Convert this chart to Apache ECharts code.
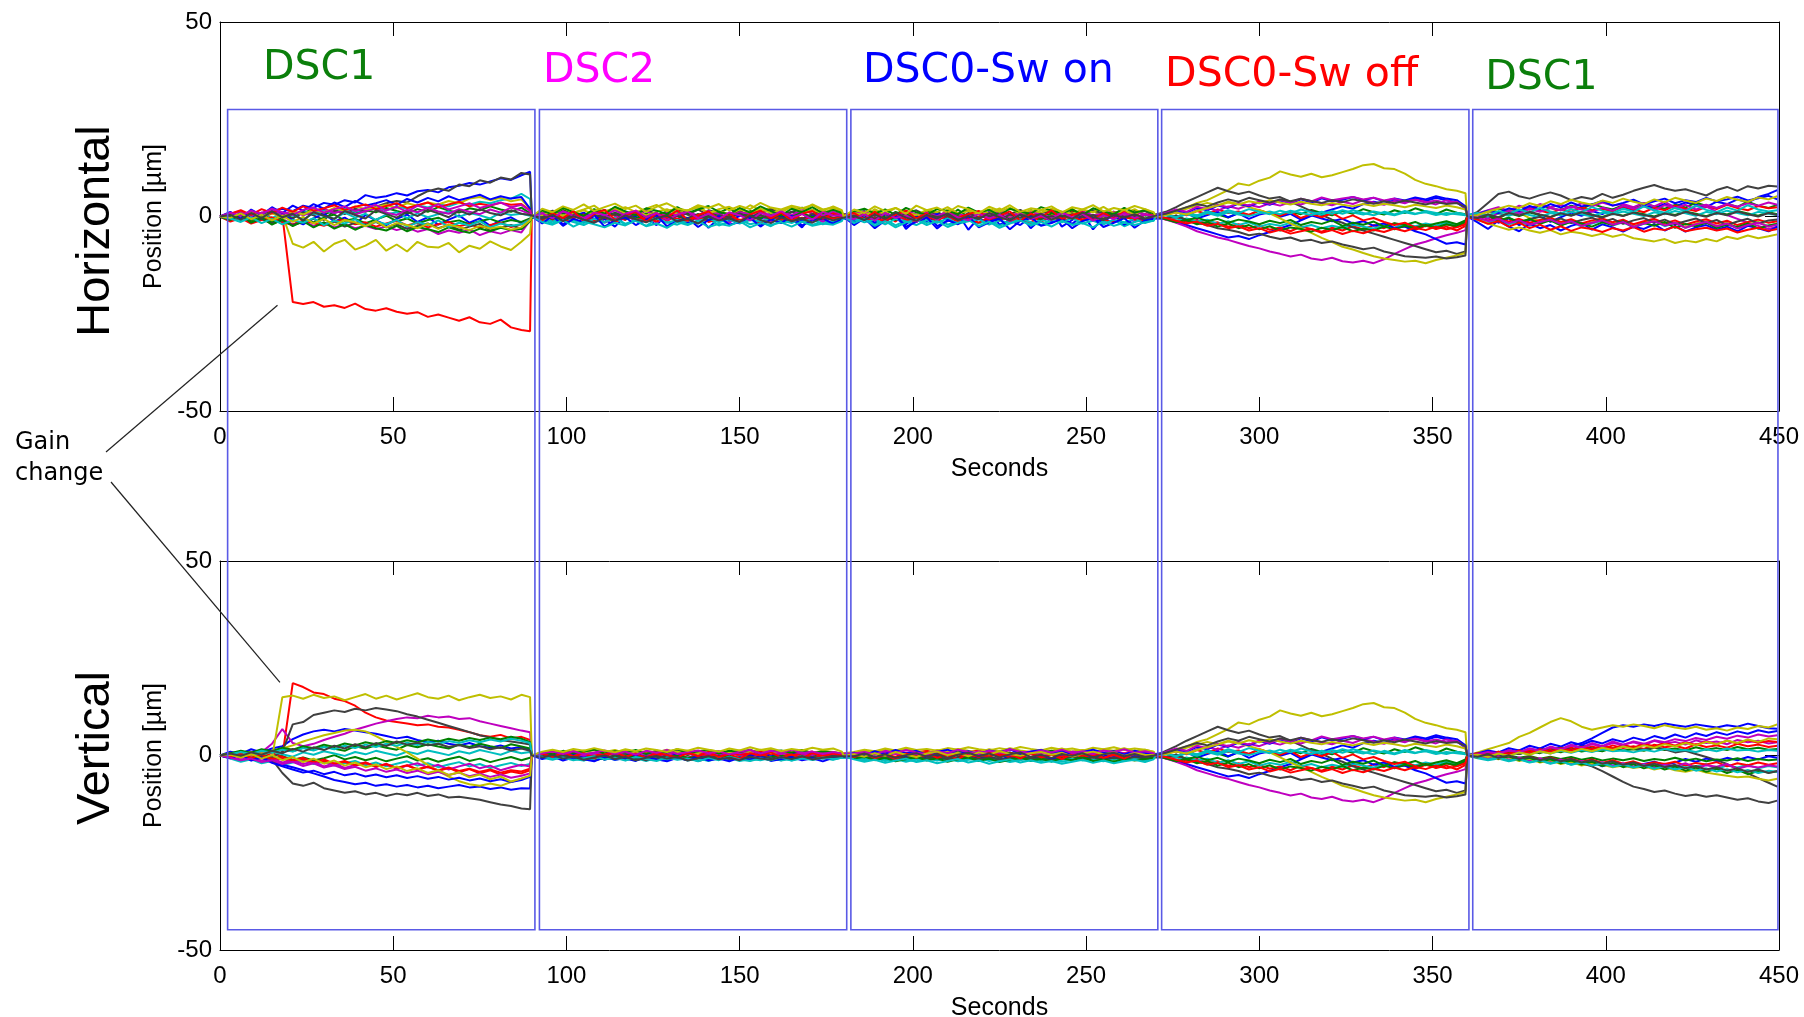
<!DOCTYPE html>
<html>
<head>
<meta charset="utf-8">
<script src="https://cdn.jsdelivr.net/npm/echarts/dist/echarts.min.js"></script>
<style>
  html, body { margin: 0; padding: 0; background: #fff; }
  #chart { width: 1804px; height: 1017px; }
</style>
</head>
<body>
<div id="chart"></div>
<script>
// Orbit stability record: BPM position traces for five 90 s acquisitions,
// horizontal plane (top) and vertical plane (bottom).

// Start time of each acquisition [s] and the sample offsets inside one acquisition [s]
const sectionStart = [0, 90, 180, 270, 360];
const sampleOffset = [0, 3, 6, 9, 12, 15, 18, 21, 24, 27, 30, 33, 36, 39, 42, 45, 48, 51, 54, 57, 60, 63, 66, 69, 72, 75, 78, 81, 84, 87, 89.5];

// Acquisition titles
const sectionNames = ['DSC1', 'DSC2', 'DSC0-Sw on', 'DSC0-Sw off', 'DSC1'];
const sectionColors = ['#0b7f0b', '#ff00ff', '#0000ff', '#ff0000', '#0b7f0b'];
// title anchor [s, µm] in the horizontal panel (left edge, vertical centre)
const sectionLabelAnchor = [[12.4, 38.2], [93.2, 37.3], [185.6, 37.2], [272.8, 36.4], [365.2, 35.4]];
// time span of each acquisition frame [s]
const sectionBox = [[2.2, 90.9], [92.2, 180.9], [182.1, 270.7], [271.8, 360.5], [361.6, 449.7]];
const boxTopH = 27.5;     // frame top, in µm of the horizontal panel
const boxBottomV = -44.8; // frame bottom, in µm of the vertical panel

// Points where the gain change shows up [s, µm]
const gainChangeH = [16.6, -22.8];
const gainChangeV = [17.3, 18.8];

// Trace colours (cycled per BPM)
const traceColors = ['#0000ff', '#008000', '#ff0000', '#00bfbf', '#bf00bf', '#bfbf00', '#404040'];
const BPM_COUNT = 21;

// ---- Horizontal plane, one row per BPM, values in µm ----
const hDsc1 = [
  [0,.8,-.5,1.2,.6,1.5,2,1.4,2.8,2.2,3.5,3,4.2,3.6,5.5,4.8,5.2,6,5.4,6.5,6.8,6.2,7.5,7.9,8.6,8.2,9,9.8,9.4,10.6,11.5],
  [0,.9,-.6,1.3,.2,1.6,.5,-.4,1,1.8,.6,1.4,2,.8,1.6,1.1,2.2,1.4,.7,1.9,1.2,2.4,1.5,1,2.1,1.6,2.6,1.8,1.2,2.3,.8],
  [0,.5,-.8,1,-.5,.8,.3,-22,-22.5,-22,-23.2,-22.8,-23.5,-22.4,-23.8,-24.2,-23.6,-24.5,-25,-24.6,-25.8,-25.2,-26,-26.8,-25.9,-27.2,-27.6,-26.5,-28.5,-29.2,-29.5],
  [0,-1.2,.3,-.8,.6,-.4,1,.2,1.4,.5,1.6,.8,2,1.2,1.8,2.4,1.5,2.6,2,2.9,2.3,3.2,2.6,3.5,3,3.8,3.4,4.2,4.6,5.8,4.5],
  [0,.5,-1,.2,-.8,-1.5,-.6,-2,-1.2,-2.4,-1.6,-2.8,-2,-3,-2.4,-3.2,-2.6,-3.5,-2.8,-3.9,-3.2,-4.5,-3.6,-4.2,-3.4,-4.8,-3.8,-4.4,-3.5,-4.1,-1],
  [0,-.8,1,-1.4,.6,-1,.4,-7,-8,-6.5,-9,-7,-6,-8.5,-7.5,-6,-8.8,-7.2,-9,-6.5,-7.8,-8,-6.8,-9.2,-7.5,-8.3,-6.4,-7.7,-8.6,-6.5,-4.5],
  [0,-1,.5,-.8,1,-1.2,.4,-.5,1.1,.3,-.9,1.5,.6,2,1.2,2.5,3.4,4,3.6,5.2,6.5,7.2,6.6,8.2,7.8,9.3,8.7,10,9.5,11.2,10.8],
  [0,-1,1.1,-.4,.7,-1.6,.2,-.9,-2,-.5,.8,-1.3,-.3,-1.9,.4,-1,-2.2,-.6,.5,-1.4,-.2,-2.1,-.8,.3,-1.6,-.5,-2.4,-1,-.2,-1.7,-.6],
  [0,-.6,.8,-1,.3,-1.4,-.2,.6,-.9,-1.5,-.3,.5,-1.1,-.6,-1.7,-.8,.2,-1.2,-.5,-1.8,-.9,-.3,-1.5,-1,-2,-1.2,-.6,-1.6,-.9,-1.4,-.5],
  [0,-1.3,-.4,-1.8,-.9,-.2,-1.5,-2.1,-1,-1.7,-2.4,-1.3,-.8,-2,-1.5,-2.6,-1.8,-1.1,-2.3,-1.6,-2.8,-2,-1.4,-2.5,-1.9,-3,-2.2,-1.6,-2.7,-2,-.8],
  [0,.4,-1,.8,-.5,1.2,-.2,.6,-.8,.9,.1,-.6,1,-.3,.7,-.9,.5,1.1,-.4,.8,-.2,.6,1.3,-.1,.9,.3,-.5,1,.4,.7,.2],
  [0,.7,1.3,.2,1,1.8,.6,1.4,.3,1.2,2,.9,1.6,.5,1.4,2.1,1,.4,1.7,1.1,2.2,1.3,.7,1.9,1.2,.6,1.8,1,2.3,1.5,.6],
  [0,.6,-.4,1.1,.2,.9,-.3,1.4,.5,1.8,1,2.2,1.5,2.6,1.9,2.4,3,2.2,3.4,2.8,3.6,3.1,4,3.4,4.6,5,4.2,4.8,3.9,4.4,2],
  [0,-.8,.4,-1.5,-.6,-1.8,-1,-2.2,-1.4,-.6,-2,-1.2,-2.6,-1.6,-2.2,-1.4,-2.8,-2,-3.2,-2.4,-1.8,-3,-2.2,-3.4,-2.6,-1.9,-3.6,-2.8,-2.2,-3.2,-1],
  [0,1.2,-.6,1.8,.3,2.4,.9,2.8,1.5,3.2,2,3.6,2.4,4,2.8,3.4,4.2,3,4.5,3.6,4.8,3.9,5.2,4.2,4.9,5.6,4.4,5.2,4.6,5,2],
  [0,-.9,.6,-1.6,-.3,-2.1,-.8,-2.5,-1.2,-2.8,-1.5,-3.1,-2,-3.4,-2.2,-3,-3.6,-2.4,-3.8,-2.7,-3.3,-4,-2.8,-3.6,-4.2,-3.1,-3.8,-2.9,-3.5,-3.2,-1.2],
  [0,.7,1.6,.4,1.9,.9,2.3,1.2,2.6,1.5,2.1,2.9,1.7,2.5,3.1,1.9,2.7,3.4,2.2,2.9,3.6,2.4,3.1,3.8,2.6,3.3,2.8,3.5,3,3.2,1.5],
  [0,-.5,-1.4,-.2,-1.7,-.6,-2,-.9,-1.6,-.4,-2.2,-1.1,-1.8,-.7,-2.4,-1.3,-2,-.9,-2.6,-1.5,-2.2,-1,-2.7,-1.6,-2.3,-1.2,-2.8,-1.8,-2.4,-2,-.8],
  [0,1,.2,1.5,.6,2,1.1,.4,1.7,2.3,1,1.9,2.6,1.4,2.2,3,1.6,2.5,1.2,2.8,2,3.2,1.8,2.6,3.4,2.2,2.9,3.6,2.4,3,1.4],
  [0,-.3,.8,-.7,.5,-1,.2,-1.4,-.1,-1.8,-.6,-2.2,-.9,-1.5,-2.5,-1.2,-2.8,-1.7,-2.2,-3,-1.9,-3.2,-2.1,-2.7,-3.5,-2.4,-3.1,-2.6,-3.4,-2.8,-1],
  [0,.4,-.8,.9,-.4,1.3,-.2,.7,-1,1.1,.2,-.6,1.4,.4,-.5,1.6,.6,-.3,1.2,.1,1.7,.8,-.2,1.5,.5,1.9,.9,.3,1.6,.7,.4]
];
const hDsc2 = [
  [0,-1.2,.4,-2,-.3,.8,-1.5,-.6,-2.6,.2,-1,-.4,-2.2,.6,-.8,-1.7,.1,-2.9,-.5,.7,-1.3,-.2,-2.4,.3,-1.1,-.6,-2.8,.5,-.9,-1.6,-.3],
  [0,1.2,-.3,1.8,.4,-.6,1.5,.8,2.1,-.2,1,1.7,.3,1.3,2,.5,-.4,1.6,.9,2.2,.2,1.4,.7,1.9,-.1,1.1,2.3,.6,1.5,.8,.4],
  [0,.8,-1,1.3,-.5,.6,-1.4,1,.2,-.9,1.5,-.3,.7,-1.2,.4,1.2,-.7,.9,-1.1,.3,1.4,-.6,.5,-1.3,1,-.2,.8,-1,1.3,-.4,.2],
  [0,-.8,-1.8,-.5,-1.4,-2.2,-.9,-1.6,-.4,-2,-1.1,-2.4,-.7,-1.5,-2.1,-1,-1.8,-.6,-2.3,-1.3,-.8,-2,-1.4,-2.5,-1,-1.7,-.5,-2.2,-1.2,-1.9,-.8],
  [0,-.4,.9,-1.1,.3,-.7,1.1,-1.5,-.2,.8,-1,.4,-1.6,.1,-.6,1,-1.2,.5,-.4,-1.7,.6,-.9,.2,-1.3,.7,-.5,-1.1,.3,-1.4,.5,-.2],
  [0,1.4,.6,2.2,1,1.8,2.8,.9,1.6,2.4,1.1,2,3,1.3,2.1,1.5,2.7,.8,1.9,2.5,1.2,2.9,1.6,2.2,1,2.6,1.4,3.1,1.8,2.3,1],
  [0,.6,1.5,.2,1.1,-.3,.9,1.7,.4,1.3,.1,1.6,.7,-.2,1.2,.5,1.8,.3,1,.6,1.5,-.1,.9,1.9,.4,1.2,.8,1.7,.2,1.1,.5],
  [0,-.3,.5,-.9,.2,1,-.6,.4,-1.2,.7,-.1,-.8,.6,-.5,1.1,-.9,.3,-.4,.8,-1,.1,.6,-.7,.9,-.3,.4,-1.1,.5,-.2,.7,.1],
  [0,.3,-.6,.9,.1,-.8,.5,-.3,1,.2,-.5,.8,-.7,.4,.1,-.9,.6,-.2,.7,-.6,1,.2,-.4,.6,-.8,.3,.9,-.2,.5,-.5,.2],
  [0,-.7,.2,-1.2,-.4,.5,-1,-.2,-1.5,.1,-.8,-.3,-1.3,.3,-.6,-1.1,-.1,-1.4,-.5,.2,-.9,-.4,-1.6,0,-.7,-1.2,-.3,-1,.1,-.6,-.2],
  [0,-.5,-1.3,-.2,-1,-1.7,-.6,-1.4,-.3,-1.9,-.8,-1.2,-.4,-1.6,-.9,-2,-1.1,-.5,-1.5,-.7,-1.8,-.9,-1.3,-.4,-1.7,-1,-1.4,-.6,-2,-1.1,-.5],
  [0,.9,.1,1.3,.5,-.3,1,.4,1.6,.2,.8,1.4,-.1,.9,.5,1.2,.3,1.5,.6,-.2,1.1,.7,1.4,.2,1,.4,1.6,.8,.3,1.2,.4],
  [0,.4,1.1,.2,.9,1.6,.5,1.3,2.2,.8,1.5,.3,1.2,1.9,.7,1.6,2.3,1,1.4,.6,1.8,1.1,2,.9,1.5,2.4,1.2,1.7,.8,2.1,1.3],
  [0,-.2,.7,-.5,.4,-.9,.3,-.3,.8,-.7,.5,-.1,.9,-.6,.2,-.4,.6,-1,.3,-.2,.8,-.5,.4,-.8,.6,0,-.6,.7,-.3,.5,0],
  [0,-1.8,.2,-2.4,-.6,-1.4,.4,-2.6,-1,-.2,-2.2,-.8,.3,-2.5,-1.2,-.4,-2.7,-.9,.1,-2.1,-1.4,-.3,-2.6,-.7,-1.7,.2,-2.3,-1,-.5,-1.9,-.6],
  [0,1.6,.5,2.3,1.1,.2,1.9,.7,2.5,1.3,.4,2.1,1.5,.6,2.4,.9,1.8,2.7,1.2,.5,2.2,1,2.6,1.4,.3,2,1.1,2.4,.8,1.7,.9],
  [0,-1,.9,-.4,1.4,-1.2,.6,1.7,-.8,.3,1.2,-1.4,.8,-.3,1.6,-1,.4,1.3,-.7,.9,-1.3,.5,1.5,-.5,1,-1.1,.7,1.4,-.6,.8,.1],
  [0,-1.4,-2.1,-.9,-2.6,-1.3,-2,-2.8,-1.6,-2.3,-1,-2.5,-1.8,-2.9,-1.4,-2.2,-1.1,-2.7,-1.9,-2.4,-1.2,-2.8,-1.7,-2.2,-1.5,-2.6,-1.3,-2.4,-1.8,-2.1,-1.2],
  [0,.8,-.5,1.3,.2,-.8,1,.4,-1.1,.7,1.5,-.2,.9,-.9,.5,1.3,-.4,.7,-.7,1.1,.3,-1,.9,.1,1.4,-.3,.6,-.8,1.2,.2,.3],
  [0,2,1.1,2.6,1.7,3.1,1.4,2.4,3.3,1.9,2.8,1.2,2.5,3.4,2,1.5,2.9,2.2,3.2,1.6,2.7,1.9,3.5,2.3,1.8,2.8,2.1,3,1.5,2.6,1.6],
  [0,-.6,.4,-1.2,.1,-.8,-1.6,-.2,-1.1,.3,-.7,-1.5,-.4,.2,-1.3,-.6,-1.8,-.1,-1,-.5,-1.4,.2,-.9,-1.7,-.3,-1.2,-.6,-1.6,-.2,-1,-.4]
];
const hSwOn = [
  [0,-1.5,.6,-2.8,-.4,1,-3.2,-.8,.9,-2.5,-1.2,.7,-3.4,-.3,1.2,-2.1,-1,.5,-3,-.6,1.4,-2.6,-.9,.8,-3.3,-.2,1.1,-2.2,-1.4,.6,-.5],
  [0,1,-.4,1.6,-.8,1.2,.2,-1,1.4,.5,-.6,1.8,-.2,1,-.9,1.3,.4,-.7,1.7,0,1.1,-.5,1.5,.3,-.8,1.2,.6,-.3,1.6,.2,.5],
  [0,-.6,.9,-1,.5,-1.3,.8,-.4,1.2,-.9,.3,-1.5,.6,-.2,1,-1.1,.4,-.6,.9,-1.4,.2,-.3,1.1,-.8,.5,-1.2,.7,-.5,1,-.9,.1],
  [0,-1.1,-.3,-1.9,-.7,-2.3,-1,-.2,-1.7,-.6,-2.1,-1.3,-.4,-1.8,-.9,-2.4,-1.2,-.5,-2,-.8,-1.6,-.3,-2.2,-1.1,-.6,-1.9,-.9,-2.5,-1.4,-.7,-1],
  [0,.5,-.8,1,-.3,.7,-1.2,.2,-.5,1.1,-.9,.4,-.2,.8,-1.1,.6,-.4,1,-.7,.3,-1,.9,-.3,.5,-1.2,.8,-.1,.4,-.9,.6,0],
  [0,1.2,-.2,1.9,.5,-.6,1.6,.2,1.1,-.4,1.8,.7,-.3,1.4,.9,2.1,.1,1.3,-.5,1.7,.6,1,2,.3,1.5,-.2,1.2,.8,1.9,.4,.6],
  [0,.7,1.4,.1,1,-.4,.8,1.6,.3,1.2,-.2,.9,1.5,.5,-.3,1.1,.6,1.7,.2,.9,1.3,-.1,1,.4,1.6,.7,1.2,-.2,.8,1.4,.3],
  [0,-.8,.3,-1.6,.6,-.5,-2,.1,-1.2,.8,-.9,-1.8,.2,-.6,-1.4,.5,-1,-2.2,-.1,.7,-1.5,-.4,-1.9,.3,-.7,-1.3,.4,-2.1,-.5,-1,-.3],
  [0,.4,-.5,.9,-.2,-.9,.6,-.4,.3,-1,.7,.1,-.6,.9,-.3,.4,-.8,.6,-.1,-.7,.8,.2,-.5,.5,-.9,.3,.7,-.4,.2,-.6,.1],
  [0,.2,-.9,-.3,-1.3,.4,-.7,-1.4,-.1,-1,.3,-1.2,-.5,-1.6,-.2,.1,-1.1,-.6,-1.5,.2,-.8,-1.3,-.3,-1,.4,-.9,-1.4,-.2,-.7,-1.2,-.4],
  [0,-.4,-1.5,-.8,-2,-.6,-1.3,-2.2,-.9,-1.6,-.5,-1.9,-1.2,-.7,-2.1,-1,-1.7,-.6,-1.4,-2.3,-.9,-1.5,-.4,-1.8,-1.1,-2,-.8,-1.5,-.6,-1.7,-.9],
  [0,.6,1.2,.3,.9,-.2,1.4,.5,1,.1,1.3,.7,-.1,1.1,.4,1.5,.2,.9,1.3,.6,-.2,1,.5,1.4,.3,.8,1.2,.1,1,.6,.3],
  [0,.9,.3,1.5,.7,2.2,1,.4,1.7,1.1,2.4,.8,1.4,.5,1.9,1.2,2.3,.6,1.6,1,2,1.3,.7,1.8,1.1,2.5,.9,1.5,.6,1.9,.8],
  [0,-.3,.5,-.6,.8,-.2,.4,-.9,.6,-.1,.3,-.7,.9,-.4,.2,-.8,.5,-.3,.7,-.5,.1,-.8,.6,-.2,.4,-.6,.8,-.1,.3,-.7,.2],
  [0,-2.2,-.4,-3,-1,.3,-2.6,-1.4,-.2,-3.1,-.9,-2,.1,-2.8,-1.5,-.5,-3.3,-1.1,-.1,-2.4,-1.7,-.6,-3,-1.2,-.3,-2.7,-1.6,-.4,-2.9,-1,-.6],
  [0,1.3,2,.8,1.8,.4,2.2,1.1,.5,1.9,1.4,.6,2.3,1,1.7,.3,2,1.2,.7,2.4,1.5,.9,1.8,.4,2.1,1.3,.6,2.2,1,1.6,.8],
  [0,.9,-.7,1.2,-1,.4,1.5,-.5,.8,-1.2,1.1,-.3,.6,1.4,-.8,.2,1.3,-1.1,.7,-.2,1.6,-.6,.4,1.1,-.9,.9,-.4,1.2,-.7,.5,.2],
  [0,-1.7,-.6,-2.4,-1.2,-2.8,-1.5,-.8,-2.2,-1.1,-2.7,-1.6,-.9,-2.5,-1.3,-2.9,-1.8,-1,-2.3,-1.4,-2.6,-1.1,-2.1,-1.7,-2.8,-1.2,-2.4,-1.6,-2.2,-1.5,-1.1],
  [0,-.7,.6,-1.1,.9,-.4,.3,-1.3,.5,-.8,1,-.2,-1,.7,-.5,.4,-1.2,.8,-.6,.2,-.9,1.1,-.3,.6,-1.1,.3,-.7,.9,-.4,.5,0],
  [0,1.8,.9,2.6,1.4,2.2,.7,2.8,1.6,2.3,1,2.7,1.9,.8,2.5,1.5,2.9,1.2,2.1,1.7,2.6,1,2.4,1.8,2.9,1.3,2.2,1.6,2.7,1.9,1.1],
  [0,.2,-.9,.5,-.6,1,-.3,-1.1,.4,-.5,.8,-.9,.1,-.7,.9,-.2,-1,.5,-.4,.7,-.8,.3,-.6,1,-.1,-.9,.4,-.3,.6,-.5,.1]
];
// Sw off acquisition (recorded identically in both planes)
const swOff = [
  [0,-.6,-1.4,-2.2,-3,-3.8,-4.6,-5.4,-5,-5.8,-4.8,-4,-3,-2.2,-1,.2,1,1.8,2.6,2,3.2,3.8,3.2,4.2,3.6,4.6,4,4.8,4.2,3.6,2],
  [0,.4,-.5,.9,.2,1.3,.5,-.3,1,.4,1.5,.8,.1,1.2,.6,1.7,.9,.3,1.4,.7,1.9,1.1,.5,1.6,.9,2.1,1.3,.6,1.8,1,.6],
  [0,-.8,-.3,-1.4,-.9,-2,-1.5,-2.6,-2,-3,-2.4,-3.4,-2.8,-3.8,-2.6,-3.2,-3.9,-2.9,-3.6,-2.5,-3.3,-2.2,-3,-1.8,-2.6,-3.4,-2.4,-3.1,-2,-2.7,-1.5],
  [0,-.3,-1,-.5,-1.3,-.8,-1.9,-1.2,-2.2,-1.5,-2.6,-1.9,-2.4,-1.6,-2.8,-2.2,-3,-2.4,-2.9,-2.1,-2.6,-3.1,-2.3,-2.8,-2,-2.5,-1.8,-2.3,-1.6,-2.1,-1.2],
  [0,-.8,-1.6,-2.6,-3.8,-4.6,-5.4,-6,-6.8,-7.6,-8.2,-9,-9.6,-10.3,-9.8,-10.8,-11.2,-10.6,-11.5,-11.8,-11.4,-12,-11,-9.6,-8.4,-7.2,-6.5,-5.6,-4.8,-4.2,-3.5],
  [0,.8,1.6,2.3,3.5,4.2,5.5,6.8,8.5,8,9.2,10,11.6,10.8,10.2,11,10.1,10.6,11.4,12.2,13.2,13.5,12.4,12.2,11,9.4,8.4,7.8,7,6.6,6],
  [0,1.2,2.4,3.8,5,6.2,7.4,6.5,5.8,6.4,5.4,4.6,5,3.8,2.6,1.4,.4,-.8,-1.6,-2.8,-3.6,-4.4,-5.2,-6,-6.8,-7.6,-8.4,-9.2,-8.8,-9.6,-9],
  [0,.6,-.3,.9,-.5,.4,1.2,-.2,.8,-.6,.5,1.1,-.1,.7,-.8,.3,-.5,-1.2,-.6,-1.8,-1.2,-2.4,-1.8,-3,-2.6,-3.8,-4.6,-5.8,-7,-6.6,-7.2],
  [0,-.5,.2,-.9,-.3,-1.2,-.6,-1.6,-.8,-1.3,-2,-1.1,-1.7,-.9,-2.2,-1.4,-1.9,-1,-2.4,-1.6,-2.1,-1.3,-2.6,-1.7,-2.2,-1.4,-2.5,-1.8,-1.2,-2,-1],
  [0,.5,1.1,.3,1.4,.6,1.8,.9,1.3,.4,1.6,.8,.2,1.2,-.4,.6,-.2,.9,-.6,.3,-1,-.4,-1.4,-2.2,-1.6,-2.8,-2.2,-3.2,-2.6,-3.6,-2.4],
  [0,.3,-.4,.6,-.1,.9,.2,1.1,.5,.1,.8,1.3,.6,1.5,.9,.4,1.2,.7,1.6,1,.5,1.3,.8,.3,1.1,.6,1.4,.9,.4,1,.5],
  [0,.6,1.2,.5,1.6,2.2,1.5,2.6,2,3,2.4,3.4,2.8,3.7,3.1,4,3.4,2.9,3.8,3.2,4.2,3.6,3,4,3.4,4.4,3.8,3.1,4.2,3.5,2.4],
  [0,.5,1.2,2,2.8,3.5,2.9,3.8,3.2,2.4,1.6,.8,-.5,-1.8,-3,-4.2,-5.5,-6.6,-7.8,-8.5,-9.4,-10.2,-10.8,-11.2,-11.6,-11.4,-12,-11.2,-10.6,-10,-9.4],
  [0,-.5,.3,-1,-1.6,-2.2,-3,-3.4,-4,-4.8,-4.4,-5.2,-5.8,-5.4,-6.3,-6,-6.8,-6.4,-7.2,-7.8,-8.4,-8,-9,-9.6,-10.2,-10.4,-10.6,-10.3,-10.8,-10.5,-10],
  [0,.8,1.6,1,2.2,1.6,2.8,2.2,3.3,2.6,3.7,3,4.1,3.4,4.4,3.6,4.7,3.9,4.3,5,4.2,4.8,3.9,4.6,4.1,4.9,4.4,5.2,4.6,4.2,2.6],
  [0,-.7,-1.5,-.9,-2,-1.4,-2.6,-1.8,-3,-2.2,-3.3,-2.5,-3.6,-2.8,-3.2,-3.9,-2.9,-3.5,-2.7,-3.8,-3.1,-3.6,-2.6,-3.3,-2.4,-3,-2.2,-2.8,-2,-2.5,-1.4],
  [0,-.4,-1.1,-1.8,-1.3,-2.4,-1.9,-3,-2.5,-3.6,-3,-4.1,-3.4,-4.4,-3.8,-3.2,-4.2,-3.5,-4.5,-3.7,-4.3,-3.4,-4,-3.1,-3.8,-2.9,-3.5,-2.6,-3.3,-2.8,-2],
  [0,.5,-.2,.9,.3,1.3,.6,1.6,.9,1.9,1.2,.6,1.5,.8,1.8,1.1,.5,1.4,.7,1.6,.9,.3,1.2,.5,1.4,.7,1.1,.4,.9,.6,.3],
  [0,.9,1.8,1.2,2.5,1.9,3,2.4,3.5,2.8,3.9,3.2,4.3,3.6,4.6,3.9,4.9,4.2,4.6,5,4.4,4.8,4.1,4.6,3.9,4.3,3.6,4.1,3.4,3.8,2.2],
  [0,.4,1,.5,1.4,2.2,2.8,3.6,3.1,3.9,3.4,4.2,3.6,3.1,3.8,3.3,2.9,3.5,3,2.6,3.2,2.7,3.3,2.9,2.4,3,2.6,2.2,2.8,2.4,1.8],
  [0,.7,1.5,2.4,3.2,2.6,3.6,4.4,3.8,4.8,4.2,3.6,4.4,3.9,4.6,4,3.5,4.2,3.7,4.4,3.9,3.3,3.9,3.4,4.1,3.6,3.1,3.7,3.2,3.5,2.4]
];
const hDsc1b = [
  [0,-.8,.4,-1.6,-.5,-2.2,-.9,.3,-1.4,-.2,1,.2,1.4,.6,1.8,2.4,1.6,2.8,2.2,3.2,2.6,3.6,3,2.4,3.8,3.2,4.4,3.6,5,5.8,6.8],
  [0,.7,1.2,2,1.4,2.6,1.8,3,2.2,1.6,2.8,2,3.2,2.4,1.8,2.9,2.2,3.4,2.6,2,3,2.3,3.6,2.7,2.1,3.2,2.5,3.8,2.8,2.2,3],
  [0,.6,1.4,.8,1.8,1.2,2.2,1.5,.9,1.9,1.2,2.4,1.6,2,1.3,2.6,1.8,1.1,2.3,1.6,2.8,2,1.4,2.5,1.9,3,2.2,1.6,2.7,2.1,2.4],
  [0,-.9,-1.6,-.8,-2,-1.2,-2.4,-1.5,-.9,-2.2,-1.4,-2.6,-1.8,-1.1,-2.3,-1.5,-2.8,-1.9,-1.2,-2.5,-1.7,-2.9,-2,-1.4,-2.6,-1.8,-3,-2.2,-1.5,-2.4,-1.8],
  [0,.8,1.6,2.4,1.4,2.8,2,3.2,2.4,3,2.2,3.4,2.6,3.6,2.8,3.2,2.4,3.5,2.6,3.8,2.2,3,1.8,2.6,1.2,.4,-.6,-1.6,-2.4,-3.2,-2.6],
  [0,.5,1.2,.6,1.6,1,-.4,-1.2,-.6,-1.8,-1,-2.2,-1.5,-.8,-2,-1.2,-2.5,-1.6,-.9,-2.2,-1.5,-2.8,-1.8,-1.2,-2.4,-1.6,-3,-2,-1.4,-2.6,-1.8],
  [0,1.2,3.5,5.8,6.4,5.2,4.6,5.5,6.2,5.4,4.2,5,4.5,5.8,4.8,5.6,6.6,7.4,8.1,7.2,6.6,7,6.2,5.4,6.8,7.6,6.6,7.8,7.2,7.9,7.7],
  [0,-1.5,-3.2,-1,-2.6,-3.8,-1.8,-3,-2.2,-3.6,-2.4,-1.6,-3.4,-2,-2.8,-3.9,-2.6,-3.2,-2,-3.6,-2.4,-3.9,-2.8,-2.2,-3.4,-2.6,-3.8,-2.4,-3,-3.8,-2.6],
  [0,-.3,.5,-.4,.8,.1,1,.4,-.2,.9,.3,1.2,.5,-.1,.8,.2,1.1,.6,0,.9,.4,1.3,.7,.1,1,.5,1.4,.8,.2,1.1,.6],
  [0,-.4,-1,-.2,-1.3,-.6,-1.6,-.9,-.3,-1.4,-.7,-1.8,-1,-.5,-1.5,-.8,-2,-1.2,-.6,-1.7,-1,-2.1,-1.3,-.7,-1.8,-1.1,-2.2,-1.4,-.8,-1.6,-1.2],
  [0,.4,-.3,.8,.2,1.1,.4,-.2,.9,.3,1.2,.6,0,1,.5,1.3,.7,.1,1.1,.6,1.4,.8,.2,1.2,.6,1.5,.9,.3,1.2,.7,.4],
  [0,.3,-.6,.9,1.5,.8,1.9,1.2,2.2,1.6,2.5,1.8,1.2,2.3,1.5,2.8,2,2.6,1.6,2.9,2.2,1.6,2.6,3,2.2,3.2,2.5,3.4,2.8,3.6,3],
  [0,-.8,-1.8,-2.6,-3.4,-2.8,-3.6,-4.2,-3.5,-4.6,-3.9,-4.3,-5,-4.4,-5.2,-4.6,-5.6,-6,-6.4,-5.8,-6.8,-6.2,-6.6,-5.8,-6.4,-5.2,-5.8,-4.9,-5.6,-5.1,-4.6],
  [0,-.6,.2,-1.1,-.4,-1.5,-.7,-.1,-1.2,-.5,-1.7,-.9,-.3,-1.4,-.6,-1.9,-1,-.4,-1.6,-.8,-2,-1.2,-.5,-1.7,-.9,-2.2,-1.3,-.6,-1.8,-1,-.8],
  [0,.6,1.5,.9,2.1,1.4,2.7,1.9,3.2,2.3,3.6,2.6,3.1,4,2.8,3.5,4.3,3.1,3.9,4.6,3.4,4.2,3.7,4.8,3.9,4.4,5.1,4.1,4.7,5.3,4.4],
  [0,-.5,.4,-1,-.3,-1.5,-.6,-1.9,-1,-2.3,-1.3,-1.8,-2.6,-1.5,-2.2,-1.2,-2.8,-1.7,-2.4,-1.4,-2.9,-1.9,-2.5,-1.6,-3,-2.1,-2.7,-1.8,-3.1,-2.3,-1.9],
  [0,-.8,-1.9,-1.2,-2.6,-1.6,-3,-2.1,-3.4,-2.5,-3.7,-2.8,-3.2,-4,-3,-3.6,-2.7,-3.9,-3.1,-3.5,-2.6,-3.8,-3.3,-2.9,-3.6,-3.1,-4.1,-3.4,-2.9,-3.7,-3.2],
  [0,.9,.2,1.4,.7,1.8,1,2.2,1.3,.8,1.9,1.1,2.4,1.5,.9,2,1.2,2.6,1.6,1,2.2,1.4,2.8,1.7,1.1,2.3,1.5,2.9,1.8,1.3,1.6],
  [0,-.3,-1.2,-.6,-1.7,-1,-2.1,-1.4,-.8,-1.9,-1.2,-2.4,-1.6,-1,-2.1,-1.4,-2.7,-1.8,-1.2,-2.3,-1.6,-2.9,-2,-1.4,-2.5,-1.8,-3.1,-2.2,-1.6,-2.6,-2.1],
  [0,.4,1.3,2,2.8,2.2,3.4,2.7,3.9,3.2,4.3,3.6,3,4.1,3.5,4.6,3.8,3.2,4.4,3.7,4.8,4.1,3.5,4.6,4,5,4.3,3.8,4.9,4.4,5.2],
  [0,-.4,.5,-.2,.9,.3,1.2,.5,-.1,.8,.2,1.1,.4,-.3,.7,.1,1,.4,-.2,.8,.2,1.2,.5,-.1,.9,.3,1.3,.6,0,.9,.4]
];

// ---- Vertical plane, one row per BPM, values in µm ----
const vDsc1 = [
  [0,1,.4,1.6,.8,1.8,2.4,4.2,5.4,6.2,6.6,6.2,6.8,6.4,6,5.6,5,4.4,4.8,4,3.4,3.8,3,2.6,3.2,2.4,2,2.6,1.8,2.2,1.4],
  [0,.5,1,.4,1.3,.8,1.6,1.1,2,1.4,2.3,1.7,1.2,2.4,1.8,2.6,2,1.5,2.7,2.1,2.9,2.3,1.8,2.8,2.2,3,2.4,1.9,2.9,2.3,1.8],
  [0,.4,-.6,.8,-.3,.6,-.2,18.6,17.6,16.2,15.8,14.6,14,12.8,11,9.8,9,8.6,8.2,7.8,8,7.4,7.2,6.6,6,5.2,4.8,5.3,4.4,4.8,4],
  [0,-.8,-1.6,-1,-2,-1.4,-2.4,-1.8,-1.2,-2.2,-1.6,-2.6,-2,-1.4,-2.5,-1.8,-2.8,-2.1,-1.5,-2.6,-2,-3,-2.3,-1.7,-2.8,-2.2,-3.2,-2.5,-1.9,-2.7,-2.2],
  [0,-.4,.6,-.2,.8,3,6.8,3.2,2.4,3,4,4.8,5.6,6.6,7.4,8.2,8.8,9.4,9.8,9.6,10.2,9.8,10,9.4,9.6,8.8,8.2,7.6,7,6.4,6],
  [0,-.5,.8,-.3,.6,-.8,15,15.4,14.6,15.6,14.8,15.2,14.2,15,15.8,14.6,15.4,14.4,15.2,16,15,14.6,15.4,14.2,15,15.6,14.8,15.2,14.4,15.6,15],
  [0,.6,-.4,.9,.2,-.5,1,8,8.6,10.4,11,11.6,11.2,12,11.6,12.2,11.8,11.4,10.6,10,9.2,8.4,7.6,6.8,6,5.2,4.6,4,3.6,3.2,2.8],
  [0,-.6,.3,-1.2,-.4,-1.6,-2.4,-3,-3.8,-4.6,-5.4,-6.3,-6.8,-7.4,-7,-7.8,-7.4,-8,-7.6,-8.2,-7.8,-8.4,-8,-7.6,-8.2,-8,-8.6,-8.2,-8.8,-8.4,-8.5],
  [0,-.3,.4,-.6,.2,-.9,-.2,-1.1,-.5,-1.3,-.7,.1,-1,-.4,-1.2,-.6,-1.5,-.8,-.2,-1.3,-.7,-1.6,-.9,-.3,-1.4,-.8,-1.7,-1,-.4,-1.2,-.6],
  [0,-.5,.3,-.9,-.4,-1.2,-.8,-1.6,-1,-1.9,-1.4,-2.2,-1.6,-2.6,-2,-2.8,-2.3,-3.2,-2.6,-3.5,-2.9,-3.8,-3.1,-4,-3.4,-4.2,-3.6,-4.4,-3.8,-4.1,-3.4],
  [0,.4,-.2,.7,.1,1,.3,-.3,.8,.2,1.1,.5,-.1,.9,.3,1.2,.6,0,1,.4,1.3,.7,.1,1.1,.5,1.4,.8,.2,1.2,.6,.9],
  [0,-.4,-1,-.5,-1.3,-.8,-1.8,-1.2,-2.2,-1.6,-2.8,-2,-3.2,-2.4,-1.8,-2.9,-2.2,-3.4,-2.6,-2,-3.1,-2.4,-3.6,-2.8,-2.1,-3.3,-2.6,-3.8,-3,-2.4,-2.8],
  [0,.6,-.3,.9,.4,1.2,1.8,2.6,3.6,4.4,5.2,5.8,6.4,6.6,6.2,5,3.6,2.2,.8,-.8,-2.4,-4,-5.4,-6.6,-7.4,-7.8,-7.2,-7.8,-6.8,-6,-5.4],
  [0,-.5,.4,-.8,-.2,-1,-4.5,-7.2,-7.8,-7,-8.4,-9,-9.6,-9.2,-10,-9.6,-10.4,-9.8,-10.2,-9.6,-10.4,-10,-10.8,-10.6,-11,-11.4,-12,-12.6,-13,-13.6,-13.8],
  [0,-.7,.3,-1.3,-.5,-1.9,-2.8,-3.6,-4.4,-3.9,-4.8,-4.2,-5.1,-4.6,-5.4,-4.9,-5.6,-5.1,-5.8,-5.3,-6,-5.5,-6.2,-5.7,-6.4,-5.9,-6.6,-6.1,-6.8,-6.3,-5.5],
  [0,.6,1.2,.7,1.6,1.1,2,1.5,2.4,1.9,2.8,2.2,3.1,2.6,3.4,2.9,3.7,3.2,3.9,3.4,4.1,3.6,4.3,3.8,4.5,4,4.6,4.2,4.8,4.3,3.4],
  [0,-.3,.5,-.6,.2,-.9,-.3,-1.3,-.6,-1.7,-1,-2.1,-1.4,-2.5,-1.8,-2.9,-2.2,-3.2,-2.5,-3.6,-2.9,-3.9,-3.2,-4.3,-3.5,-4.6,-3.8,-4.9,-4.1,-4.6,-3.8],
  [0,.3,.9,.4,1.2,.7,1.5,1,1.9,1.3,2.2,1.6,2.5,1.9,2.8,2.2,3,2.5,3.3,2.7,3.5,3,3.7,3.2,3.9,3.4,4.1,3.6,4.3,3.8,3.2],
  [0,-.6,-1.2,-.8,-1.7,-1.2,-2.2,-1.6,-2.7,-2,-3.1,-2.5,-3.5,-2.9,-3.9,-3.3,-4.2,-3.6,-4.5,-3.9,-4.8,-4.2,-5,-4.4,-5.3,-4.7,-5.5,-4.9,-5.7,-5.2,-4.6],
  [0,.2,-.5,.4,-.8,.1,-1.2,-.4,-1.7,-.8,-2.1,-1.3,-2.6,-1.8,-3,-2.3,-3.5,-2.8,-4,-3.3,-4.5,-3.8,-5,-4.3,-5.6,-4.9,-6.1,-5.4,-6.7,-5.9,-5.2],
  [0,.5,-.1,.8,.2,1.2,.6,1.7,1,2.1,1.4,2.5,1.8,2.9,2.1,3.2,2.4,3.6,2.8,3.3,2.6,3,2.2,2.7,1.9,2.4,1.6,2.1,1.3,1.8,1.2]
];
const vDsc2 = [
  [0,-.5,.3,-.9,.1,-.6,.5,-1.1,-.2,.4,-.8,.2,-.4,-1,.3,-.6,.1,-.9,.4,-.3,-1.2,.2,-.5,.3,-.8,-.1,.5,-.7,.2,-.4,-.1],
  [0,.4,-.2,.7,.2,-.4,.6,.1,.9,-.1,.5,.8,-.3,.4,.7,.1,.9,.3,-.2,.6,.2,.8,-.1,.5,1,.3,.6,-.2,.7,.4,.2],
  [0,-.3,.5,-.6,.2,-.8,.4,-.2,.7,-.5,.1,-.9,.3,-.4,.6,-.7,.2,-.3,.5,-.8,.1,-.5,.4,-.6,.3,-.2,.6,-.7,.2,-.4,0],
  [0,-.6,-1.1,-.4,-.9,-1.3,-.5,-1,-.3,-1.2,-.7,-1.4,-.6,-1,-.4,-1.3,-.8,-.3,-1.1,-.6,-1.4,-.9,-.5,-1.2,-.7,-1.3,-.4,-1,-.6,-1.1,-.5],
  [0,.3,-.4,.6,-.1,.5,-.6,.2,.8,-.3,.4,-.5,.7,-.2,.3,.9,-.1,.5,-.4,.6,.1,-.6,.4,.8,-.2,.5,-.4,.6,0,.3,-.2],
  [0,.7,.2,1,.5,1.3,.4,.9,1.4,.6,1.1,.3,1.2,.7,1.5,.8,.2,1,.6,1.3,.5,1.1,.8,1.6,.4,.9,1.3,.6,1,.5,.4],
  [0,-.2,-.8,-.3,-1,-.5,-1.3,-.6,-.1,-.9,-.4,-1.2,-.7,-.2,-1,-.5,-1.4,-.8,-.3,-1.1,-.6,-1.3,-.4,-.9,-1.2,-.5,-1,-.3,-.8,-.6,-.4],
  [0,.5,-.1,.8,.3,-.2,.6,1,.2,.7,-.1,.9,.4,1.1,.1,.6,-.2,.8,.3,1,.5,-.1,.7,.2,.9,.4,1.1,.3,.6,.1,.3],
  [0,-.4,.2,-.7,-.2,.3,-.5,-1,-.3,.2,-.6,-.1,-.9,-.4,.1,-.7,-.2,-1.1,-.5,0,-.8,-.3,-1,-.4,.1,-.6,-.2,-.9,-.5,-.2,-.3],
  [0,.2,.8,.3,1,.4,-.1,.7,.2,1.1,.5,.9,.1,.6,1,.3,.8,-.1,.5,.9,.2,.7,1.2,.4,.8,.1,.6,1,.3,.7,.2],
  [0,-.7,-.2,-1,-.5,-1.2,-.8,-.3,-1.1,-.6,-1.3,-.4,-.9,-1.2,-.5,-1,-.7,-1.4,-.6,-1.1,-.3,-.9,-1.2,-.6,-1.3,-.8,-.4,-1.1,-.7,-1,-.5],
  [0,.4,.9,.2,.7,-.1,.5,.9,.3,.6,1,.1,.8,.4,1.1,.5,-.1,.7,.3,.9,.6,1.2,.2,.7,.4,1,.5,.1,.8,.3,.2],
  [0,.6,1.1,.5,1.2,.8,1.4,.7,1,1.3,.5,1.1,.8,1.5,.9,1.2,.6,1.4,1,.7,1.3,.9,1.5,.6,1.1,.8,1.4,.7,1.2,.9,.5],
  [0,-.1,-.6,.2,-.4,-.9,-.2,-.7,.1,-.5,-1,-.3,-.8,0,-.6,-1.1,-.4,-.7,-.1,-.9,-.5,-1,-.2,-.7,-.4,-1.1,-.3,-.8,-.5,-.2,-.3],
  [0,-.9,-.2,-1.3,-.5,-1,-1.5,-.4,-1.1,-.7,-1.4,-.3,-1,-1.5,-.6,-1.2,-.2,-1.3,-.8,-1.5,-.5,-1.1,-.3,-1.4,-.9,-.4,-1.2,-.7,-1.5,-.6,-.4],
  [0,.8,.3,1.2,.6,1,1.5,.5,1.1,.7,1.4,.4,1.2,.8,1.6,.6,1.1,1.4,.5,1.2,.9,1.5,.4,1,1.3,.7,1.4,.6,1.1,.8,.5],
  [0,.5,-.4,.8,-.2,.6,-.7,.3,.9,-.3,.5,-.6,.8,.1,-.5,.7,-.2,.9,-.4,.4,-.8,.6,0,.8,-.5,.3,-.7,.6,-.2,.5,0],
  [0,-.3,-.9,-.5,-1.2,-.7,-.2,-1,-.6,-1.3,-.4,-.9,-1.4,-.5,-1.1,-.8,-1.5,-.6,-1.2,-.3,-1,-1.4,-.7,-1.2,-.4,-1.3,-.8,-1.1,-.5,-.9,-.6],
  [0,.6,1,.4,1.1,.3,.8,1.3,.5,1,.2,1.2,.7,1.4,.4,.9,1.3,.6,1.1,.3,1,1.4,.5,1.2,.8,1.5,.6,1,.4,.9,.5],
  [0,1,1.5,.9,1.7,1.2,1.9,1.3,.8,1.6,1.1,1.8,1.4,.9,1.7,1.2,2,1.5,1,1.8,1.3,2.1,1.4,1.9,1.1,1.7,1.3,2,1.5,1.8,1],
  [0,-.5,.1,-.8,-.3,-1.1,-.5,0,-.9,-.4,-1.2,-.6,-.1,-.8,-.4,-1.3,-.7,-.2,-1,-.5,-1.2,-.3,-.8,-1.1,-.4,-.9,-.2,-1,-.6,-.3,-.2]
];
const vSwOn = [
  [0,.4,-.3,.8,.1,-.5,.6,.2,.9,-.2,.5,1,.3,-.4,.7,.1,.8,-.3,.4,.9,.2,-.1,.6,1.1,.3,-.2,.7,.4,.9,.1,.3],
  [0,-.4,-.9,-.3,-1,-.6,-1.2,-.5,-.2,-.9,-.5,-1.3,-.7,-.3,-1.1,-.6,-1.4,-.8,-.4,-1.2,-.7,-1,-.3,-.9,-1.3,-.6,-1.1,-.4,-.9,-.6,-.3],
  [0,.3,.9,.4,1.1,.5,.2,.8,1.2,.6,1,.3,.9,1.3,.5,1.1,.7,.2,.9,1.2,.4,1,.6,1.3,.8,.3,1,.6,1.2,.7,.4],
  [0,-.8,-1.3,-.6,-1.4,-.9,-1.6,-1,-.5,-1.3,-.8,-1.5,-1.1,-.6,-1.4,-1,-1.7,-1.2,-.7,-1.5,-.9,-1.6,-1.1,-.6,-1.4,-.9,-1.7,-1.2,-.8,-1.3,-.7],
  [0,.2,-.4,.5,-.2,.6,-.5,.3,-.1,.7,-.3,.4,-.6,.2,.6,-.4,.3,-.2,.8,-.1,.4,-.5,.5,-.2,.3,.7,-.3,.4,-.1,.5,0],
  [0,.6,1.2,.7,1.5,.9,1.8,1.1,.6,1.4,1,1.7,1.2,.8,1.6,1.1,1.9,1.3,.9,1.5,1.2,1.8,1,1.4,.8,1.6,1.2,1.9,1.1,1.5,.9],
  [0,-.3,.2,-.6,-.1,-.8,-.3,.1,-.7,-.2,-.9,-.4,0,-.6,-.2,-1,-.5,-.1,-.8,-.3,-1,-.4,-.1,-.7,-.3,-.9,-.5,-.2,-.8,-.4,-.3],
  [0,-.5,.1,-.7,-.2,-1,-.4,.2,-.6,-1.1,-.3,-.8,-.1,-.9,-.5,-1.2,-.2,-.7,-1,-.4,-.9,-.1,-.6,-1.1,-.3,-.8,-.5,-1,-.2,-.6,-.4],
  [0,.5,.1,.8,.4,1,.3,.7,.1,.9,.5,1.1,.4,.8,.2,1,.6,.3,.9,.5,1.2,.4,.8,.2,1,.6,1.1,.3,.7,.4,.2],
  [0,-.2,.4,-.5,.2,-.3,.6,-.6,.1,.5,-.4,.3,-.7,.2,-.2,.5,-.5,.1,.4,-.6,.2,-.3,.6,-.4,.1,-.7,.3,-.1,.5,-.3,0],
  [0,-.6,-1,-.4,-1.3,-.7,-1.1,-1.5,-.8,-1.2,-.5,-1.4,-.9,-1.3,-.6,-1.5,-1,-.7,-1.4,-.9,-1.6,-1.1,-.6,-1.3,-1,-1.5,-.8,-1.2,-.7,-1.1,-.6],
  [0,.3,.7,.2,.9,.4,.8,.1,.6,1,.4,.8,.3,1.1,.5,.9,.2,.7,1,.5,.8,.3,1,.6,1.2,.4,.9,.5,.8,.3,.2],
  [0,.9,1.5,1.1,1.8,1.3,2,1.4,1.7,1.2,1.9,1.5,2.1,1.6,1.3,1.9,1.4,2.2,1.7,1.3,2,1.5,1.8,1.2,2,1.6,2.1,1.4,1.8,1.5,1],
  [0,-.4,-.1,-.7,-.3,-.9,-.5,-.2,-.8,-.4,-1,-.6,-.3,-.9,-.5,-1.1,-.7,-.4,-.9,-.6,-1.2,-.7,-.3,-1,-.5,-1.1,-.6,-.9,-.4,-.8,-.5],
  [0,.7,.1,1.1,.4,1.4,.6,1.2,.2,.9,1.5,.5,1.1,.3,1.3,.8,1.6,.4,1,1.4,.6,1.2,.2,.9,1.5,.7,1.1,.3,1.2,.6,.3],
  [0,-.8,-.3,-1.2,-.6,-1.5,-.9,-.4,-1.3,-.7,-1.6,-1,-.5,-1.4,-.8,-1.7,-1.1,-.6,-1.3,-.9,-1.5,-.7,-1.2,-.4,-1.4,-1,-1.6,-.8,-1.3,-.9,-.6],
  [0,-.4,.6,-.7,.3,-.9,.5,-.3,.8,-.6,.2,-1,.6,-.4,.9,-.2,.4,-.8,.7,-.5,.3,-.9,.5,-.1,.8,-.6,.2,-.8,.6,-.3,0],
  [0,-1,-1.6,-1.1,-1.9,-1.3,-.8,-1.7,-1.2,-2,-1.4,-.9,-1.8,-1.3,-2.1,-1.5,-1,-1.8,-1.2,-1.9,-1.4,-2.1,-1.6,-1.1,-1.9,-1.3,-2,-1.5,-1.1,-1.7,-1],
  [0,.5,.9,.3,1.2,.6,1.4,.8,.3,1.1,.6,1.5,.9,.4,1.2,.7,1.6,1,.5,1.3,.8,1.5,.6,1.1,.4,1.3,.9,1.6,.7,1.1,.6],
  [0,.3,-.3,.6,-.1,.9,.2,-.4,.5,1,.1,.7,-.2,.8,.3,1.1,.4,-.1,.6,.9,.2,.7,-.3,.5,1,.3,.8,-.1,.6,.2,.1],
  [0,-.2,.5,-.4,.3,-.6,.1,.6,-.3,.4,-.7,.2,.7,-.2,.5,-.5,.3,.8,-.4,.2,-.6,.4,-.1,.6,-.5,.3,.7,-.2,.4,-.4,0]
];
const vDsc1b = [
  [0,-.4,.6,-.2,.9,.4,1.3,.8,1.8,1.2,2.4,3.2,4.4,5.8,7.2,7.8,7.4,8,7.6,8.2,7.8,7.4,8,7.6,7.2,7.8,7.4,8.2,7.6,7,6.9],
  [0,.2,.7,.1,.9,.4,1.1,.6,1.4,.8,1.7,1,1.5,1.1,1.9,1.3,1.6,1.2,2,1.4,1.8,1.3,2.1,1.5,1.9,1.4,2.2,1.6,2,1.5,1.7],
  [0,.3,.8,.2,1.1,.5,1.4,.8,1.7,1.1,2,1.4,2.3,1.6,2.6,1.9,2.4,1.7,2.8,2.1,2.5,1.8,2.9,2.2,2.6,2,3,2.4,2.8,2.2,2.5],
  [0,-.7,-1.2,-.8,-1.5,-1,-1.8,-1.3,-2.1,-1.5,-2.4,-1.8,-2.6,-2,-2.8,-2.2,-3,-2.4,-2.8,-2.1,-3.2,-2.5,-2.9,-2.2,-3.4,-2.6,-3.1,-2.4,-3.3,-2.7,-3],
  [0,.5,1,.6,1.4,.8,1.9,1.2,2.3,1.6,2.8,2,3.2,2.4,3.6,2.8,3.4,2.6,3.8,3,3.5,2.8,3.9,3.2,3.6,2.9,4,3.4,3.8,3.1,3.4],
  [0,.8,1.6,2.4,3.2,4.8,5.8,7.2,8.6,9.6,8.8,7.4,6.6,7.2,7.8,7.4,8,7.6,7,7.8,7.2,6.8,7.4,6.6,7,6.4,7.2,6.8,7.6,7.2,8],
  [0,.6,-.2,1,.3,1.4,.6,1.8,1.1,2.2,1.4,2.6,1.8,2.2,1.6,2.6,2,1.4,2.2,1.6,.8,1.2,.4,-.4,-1.2,-2.2,-3.4,-4.6,-5.8,-7,-8],
  [0,.4,-.5,.8,-.2,-1,-.4,-1.4,-.6,-2,-1.2,-2.4,-1.6,-2.8,-2,-2.6,-3,-2.2,-1.6,-2.4,-1.8,-.9,-1.6,-.8,-1.4,-.6,-1.2,-.4,-1,-.2,-.6],
  [0,-.2,.3,-.4,.1,-.6,-.1,-.8,-.3,-.9,-.4,-1.1,-.6,-1.3,-.8,-1.2,-.7,-1.4,-.9,-1.2,-.6,-1.3,-.8,-1.5,-1,-1.3,-.7,-1.4,-.9,-1.2,-1],
  [0,-.4,.2,-.6,-.1,-.9,-.3,-1.1,-.5,-1.4,-.8,-1.6,-1,-1.9,-1.2,-2.1,-1.5,-2.4,-1.7,-2.2,-1.6,-2.6,-1.9,-2.3,-1.7,-2.8,-2,-2.5,-1.8,-2.4,-2],
  [0,.3,-.2,.6,.1,.8,.3,1,.5,1.2,.7,1.4,.9,1.6,1.1,1.3,.8,1.5,1,1.7,1.2,1.4,.9,1.6,1.1,1.8,1.3,1.5,1,1.4,1.2],
  [0,-.3,-.8,-.2,-1,-.5,-1.3,-.7,-1.6,-1,-2,-1.4,-2.3,-1.7,-2.6,-2,-2.8,-2.2,-3,-2.4,-2.8,-2,-3.2,-2.5,-2.9,-2.2,-3.4,-2.7,-3.1,-2.5,-2.8],
  [0,-.6,.2,-1,-.4,-1.4,-.8,-1.8,-1.2,-2.2,-1.6,-2.6,-2,-2.4,-3,-2.6,-3.2,-2.8,-3.6,-3,-3.8,-4.2,-3.6,-4.4,-4.8,-5.2,-5.6,-5.4,-6,-6.4,-6],
  [0,-.5,.3,-.8,-.2,-1,-.4,-1.2,-.8,-1.6,-1.2,-2,-2.8,-4,-5.4,-6.8,-8,-8.6,-9.4,-9,-9.8,-10.4,-10,-10.6,-10.2,-10.8,-11.4,-11,-11.8,-12.2,-11.6],
  [0,.5,1.3,.8,1.9,1.3,2.5,1.8,3,2.3,3.4,2.7,3.8,3.1,4.2,3.5,4.6,3.9,5,4.3,5.4,4.6,5.7,5,6,5.3,6.2,5.6,6.5,5.9,6.3],
  [0,-.4,.3,-.8,-.2,-1.2,-.6,-1.6,-1,-2,-1.3,-2.3,-1.6,-2.7,-1.9,-3,-2.2,-3.3,-2.5,-3.6,-2.8,-3.9,-3.1,-4.2,-3.4,-4.5,-3.7,-4.8,-4,-4.4,-4.1],
  [0,.6,.1,1,.4,1.3,.7,1.6,1,1.9,1.3,2.2,1.6,2.5,1.8,2.7,2,3,2.3,3.2,2.5,3.4,2.7,3.6,2.9,3.8,3.1,4,3.3,3.7,3.5],
  [0,-.5,-1,-.6,-1.3,-.9,-1.7,-1.2,-2,-1.5,-2.3,-1.8,-2.6,-2,-2.9,-2.3,-3.1,-2.5,-3.4,-2.8,-3.6,-3,-3.9,-3.3,-4.1,-3.5,-4.3,-3.7,-4.5,-3.9,-4.2],
  [0,.3,.9,.5,1.3,.9,1.7,1.2,2.1,1.6,2.5,2,2.9,2.3,3.2,2.7,3.6,3,3.9,3.4,4.2,3.7,4.5,4,4.8,4.3,5.1,4.6,5.4,4.9,5.2],
  [0,.2,-.4,.5,-.1,.8,.2,1.1,.5,1.4,.8,1.7,1.1,2,1.4,2.3,1.7,2.6,2,2.9,2.3,3.2,2.6,3.5,2.9,3.8,3.2,4.1,3.5,4.4,4.2],
  [0,-.3,.3,-.6,0,-.9,-.3,-1.2,-.6,-1.5,-.9,-1.8,-1.2,-2.1,-1.5,-2.4,-1.8,-2.7,-2.1,-3,-2.4,-3.3,-2.7,-3.6,-3,-3.9,-3.3,-4.2,-3.6,-4.5,-4]
];

const hSections = [hDsc1, hDsc2, hSwOn, swOff, hDsc1b];
const vSections = [vDsc1, vDsc2, vSwOn, swOff, vDsc1b];

// ---- sanity check on table shapes ----
const shapeProblems = [];
[['hDsc1', hDsc1], ['hDsc2', hDsc2], ['hSwOn', hSwOn], ['swOff', swOff], ['hDsc1b', hDsc1b],
 ['vDsc1', vDsc1], ['vDsc2', vDsc2], ['vSwOn', vSwOn], ['vDsc1b', vDsc1b]].forEach(([name, t]) => {
  if (t.length !== BPM_COUNT) shapeProblems.push(name + ' rows=' + t.length);
  t.forEach((row, k) => { if (row.length !== sampleOffset.length) shapeProblems.push(name + '[' + k + ']=' + row.length); });
});

function buildTrace(sections, k) {
  const pts = [];
  sections.forEach((table, s) => {
    table[k].forEach((v, i) => pts.push([sectionStart[s] + sampleOffset[i], v]));
  });
  return pts;
}

const AX_FONT = '"Liberation Sans", Arial, Helvetica, sans-serif';
const NOTE_FONT = '"DejaVu Sans", Verdana, sans-serif';

function xAxesFor(gridIndex) {
  return [
    {
      type: 'value', gridIndex, position: 'bottom', min: 0, max: 450, interval: 50,
      axisLine: { onZero: false, lineStyle: { color: '#000', width: 1 } },
      axisTick: { inside: true, length: 14, lineStyle: { color: '#000', width: 1 } },
      axisLabel: { color: '#000', fontSize: 24, fontFamily: AX_FONT, margin: 14 },
      splitLine: { show: false },
      name: 'Seconds', nameLocation: 'middle', nameGap: 46,
      nameTextStyle: { color: '#000', fontSize: 25, fontFamily: AX_FONT }
    },
    {
      type: 'value', gridIndex, position: 'top', min: 0, max: 450, interval: 50,
      axisLine: { onZero: false, lineStyle: { color: '#000', width: 1 } },
      axisTick: { inside: true, length: 14, lineStyle: { color: '#000', width: 1 } },
      axisLabel: { show: false }, splitLine: { show: false }
    }
  ];
}
function yAxesFor(gridIndex) {
  return [
    {
      type: 'value', gridIndex, position: 'left', min: -50, max: 50, interval: 50,
      axisLine: { onZero: false, lineStyle: { color: '#000', width: 1 } },
      axisTick: { inside: true, length: 14, lineStyle: { color: '#000', width: 1 } },
      axisLabel: { color: '#000', fontSize: 24, fontFamily: AX_FONT, margin: 8 },
      splitLine: { show: false },
      name: 'Position [µm]', nameLocation: 'middle', nameRotate: 90, nameGap: 50,
      nameTextStyle: { color: '#000', fontSize: 25, fontFamily: AX_FONT }
    },
    {
      type: 'value', gridIndex, position: 'right', min: -50, max: 50, interval: 50,
      axisLine: { onZero: false, lineStyle: { color: '#000', width: 1 } },
      axisTick: { inside: true, length: 14, lineStyle: { color: '#000', width: 1 } },
      axisLabel: { show: false }, splitLine: { show: false }
    }
  ];
}

const series = [];
[[hSections, 0], [vSections, 2]].forEach(([sections, axisIndex]) => {
  for (let k = 0; k < BPM_COUNT; k++) {
    const color = traceColors[k % traceColors.length];
    series.push({
      type: 'line', xAxisIndex: axisIndex, yAxisIndex: axisIndex,
      data: buildTrace(sections, k),
      showSymbol: false, symbol: 'none', silent: true, animation: false,
      lineStyle: { color, width: 2 }, itemStyle: { color }, z: 2
    });
  }
});

const chart = echarts.init(document.getElementById('chart'), null, { renderer: 'canvas' });
chart.setOption({
  backgroundColor: '#fff',
  animation: false,
  textStyle: { fontFamily: AX_FONT },
  grid: [
    { left: 220, top: 22, width: 1559, height: 389, containLabel: false, outerBoundsMode: 'none' },
    { left: 220, top: 561, width: 1559, height: 389, containLabel: false, outerBoundsMode: 'none' }
  ],
  xAxis: [...xAxesFor(0), ...xAxesFor(1)],
  yAxis: [...yAxesFor(0), ...yAxesFor(1)],
  series
});

// ---- annotations placed through the axes' own scales ----
const toH = p => chart.convertToPixel({ xAxisIndex: 0, yAxisIndex: 0 }, p);
const toV = p => chart.convertToPixel({ xAxisIndex: 2, yAxisIndex: 2 }, p);

const graphics = [];
sectionBox.forEach(([a, b]) => {
  const p0 = toH([a, boxTopH]);
  const p1 = toV([b, boxBottomV]);
  graphics.push({
    type: 'rect', z: 50, silent: true,
    shape: { x: p0[0], y: p0[1], width: p1[0] - p0[0], height: p1[1] - p0[1] },
    style: { fill: 'none', stroke: '#5a5ae6', lineWidth: 1.6 }
  });
});
sectionLabelAnchor.forEach((anchor, i) => {
  const p = toH(anchor);
  graphics.push({
    type: 'text', z: 60, silent: true, x: p[0], y: p[1],
    style: {
      text: sectionNames[i], fill: sectionColors[i], font: '41px ' + NOTE_FONT,
      align: 'left', verticalAlign: 'middle', textAlign: 'left', textVerticalAlign: 'middle'
    }
  });
});
// plane titles
[['Horizontal', 96, 231], ['Vertical', 96, 748]].forEach(([txt, x, y]) => {
  graphics.push({
    type: 'text', z: 60, silent: true, x, y, rotation: Math.PI / 2,
    style: {
      text: txt, fill: '#000', font: '47px ' + AX_FONT,
      align: 'center', verticalAlign: 'middle', textAlign: 'center', textVerticalAlign: 'middle'
    }
  });
});
// gain change callout
const gH = toH(gainChangeH);
const gV = toV(gainChangeV);
graphics.push(
  { type: 'line', z: 60, silent: true, shape: { x1: 106, y1: 452, x2: gH[0], y2: gH[1] }, style: { stroke: '#222', lineWidth: 1.2 } },
  { type: 'line', z: 60, silent: true, shape: { x1: 111, y1: 482, x2: gV[0], y2: gV[1] }, style: { stroke: '#222', lineWidth: 1.2 } },
  { type: 'text', z: 60, silent: true, x: 15, y: 443,
    style: { text: 'Gain', fill: '#000', font: '24px ' + NOTE_FONT, align: 'left', verticalAlign: 'middle', textAlign: 'left', textVerticalAlign: 'middle' } },
  { type: 'text', z: 60, silent: true, x: 15, y: 474,
    style: { text: 'change', fill: '#000', font: '24px ' + NOTE_FONT, align: 'left', verticalAlign: 'middle', textAlign: 'left', textVerticalAlign: 'middle' } }
);
if (shapeProblems.length) {
  graphics.push({ type: 'text', z: 99, x: 300, y: 480, style: { text: shapeProblems.join('  '), fill: '#f00', font: '16px sans-serif' } });
}
chart.setOption({ graphic: graphics });
</script>
</body>
</html>
